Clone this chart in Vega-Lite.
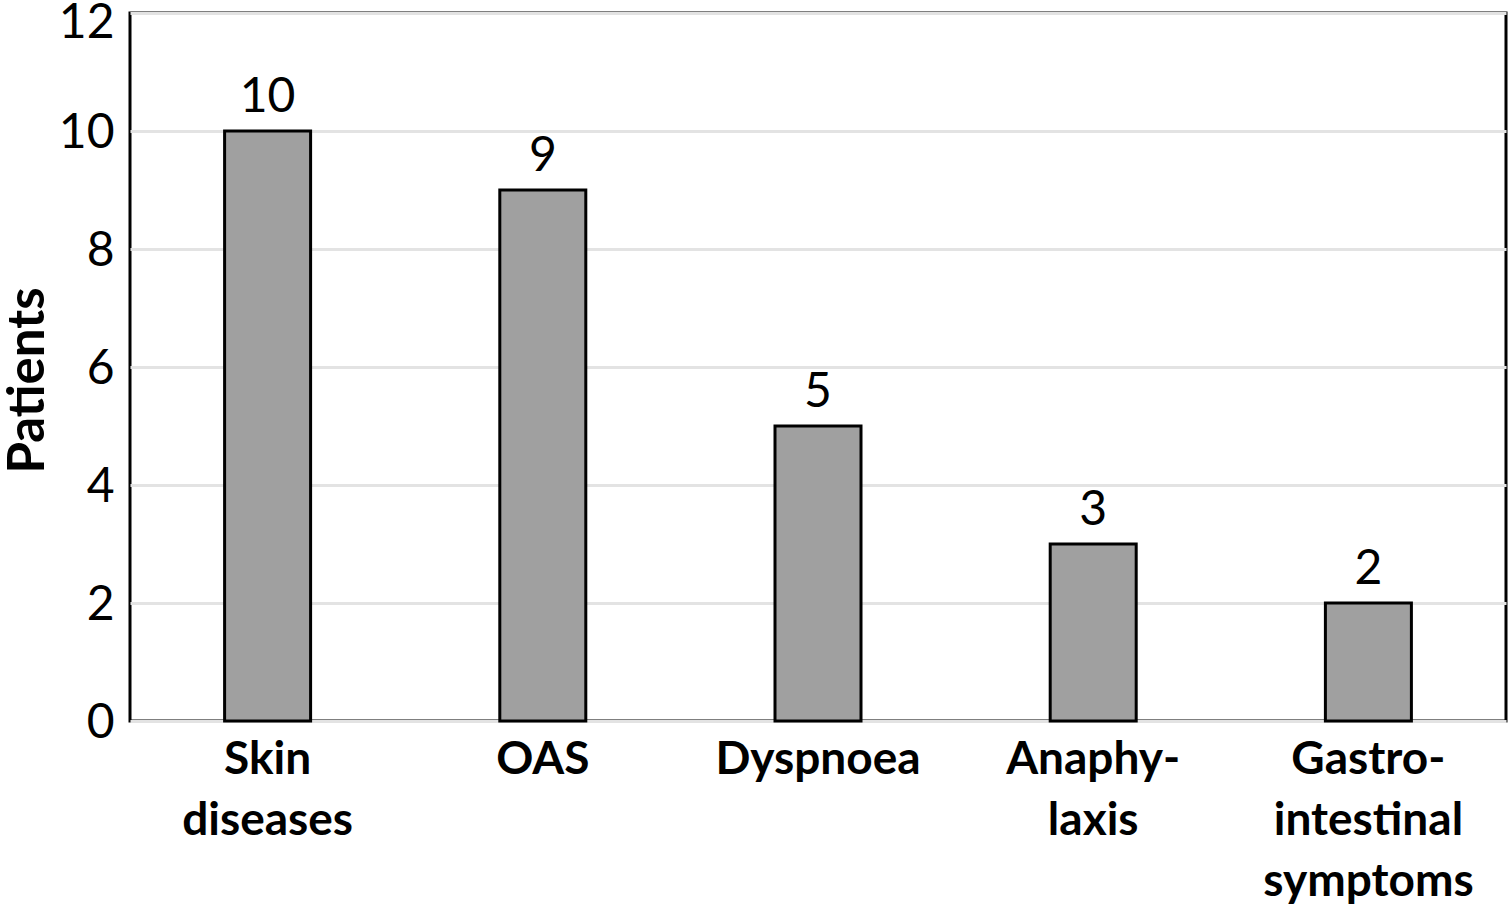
{
  "$schema": "https://vega.github.io/schema/vega-lite/v6.json",
  "width": 1376,
  "height": 708,
  "autosize": {"type": "none"},
  "padding": {"left": 130, "top": 13, "right": 4, "bottom": 196},
  "background": "white",
  "config": {
    "font": "Lato",
    "view": {"stroke": "black", "strokeWidth": 3},
    "axis": {"domain": false, "ticks": false}
  },
  "data": {
    "values": [
      {"symptom": "Skin diseases", "patients": 10},
      {"symptom": "OAS", "patients": 9},
      {"symptom": "Dyspnoea", "patients": 5},
      {"symptom": "Anaphylaxis", "patients": 3},
      {"symptom": "Gastrointestinal symptoms", "patients": 2}
    ]
  },
  "encoding": {
    "x": {
      "field": "symptom",
      "type": "nominal",
      "sort": null,
      "scale": {"paddingInner": 0, "paddingOuter": 0},
      "axis": {
        "title": null,
        "labelAngle": 0,
        "labelFont": "Lato",
        "labelFontWeight": "bold",
        "labelFontSize": 46,
        "labelLineHeight": 61,
        "labelColor": "black",
        "labelPadding": 16,
        "labelBaseline": "top",
        "labelLimit": 0,
        "labelExpr": "datum.value == 'Skin diseases' ? ['Skin', 'diseases'] : datum.value == 'Anaphylaxis' ? ['Anaphy-', 'laxis'] : datum.value == 'Gastrointestinal symptoms' ? ['Gastro-', 'intestinal', 'symptoms'] : datum.value"
      }
    },
    "y": {
      "field": "patients",
      "type": "quantitative",
      "scale": {"domain": [0, 12], "nice": false},
      "axis": {
        "title": "Patients",
        "titleFont": "Lato",
        "titleFontSize": 51,
        "titleFontWeight": "bold",
        "titleColor": "black",
        "titleX": -87,
        "titleY": 367,
        "titleAngle": -90,
        "titleAlign": "center",
        "titleBaseline": "alphabetic",
        "values": [0, 2, 4, 6, 8, 10, 12],
        "labelFont": "Lato",
        "labelFontSize": 48,
        "labelColor": "black",
        "labelPadding": 16,
        "labelBaseline": {"condition": {"test": "datum.value == 12", "value": "top"}, "value": "middle"},
        "labelOffset": {"condition": {"test": "datum.value == 12", "value": -14}, "value": 2},
        "gridColor": "#e3e3e3",
        "gridWidth": 3
      }
    }
  },
  "layer": [
    {
      "mark": {"type": "bar", "size": 86, "fill": "#a0a0a0", "stroke": "black", "strokeWidth": 3}
    },
    {
      "mark": {"type": "text", "baseline": "alphabetic", "dy": -19, "fontSize": 48, "font": "Lato", "color": "black"},
      "encoding": {"text": {"field": "patients", "type": "quantitative"}}
    }
  ]
}
